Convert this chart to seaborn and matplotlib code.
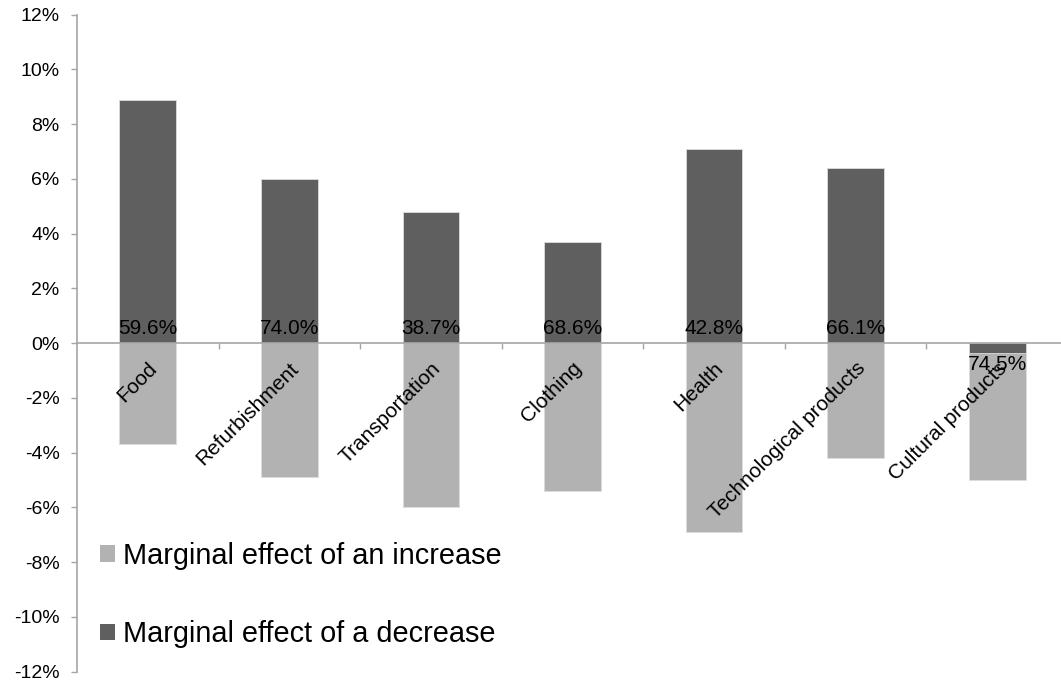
import matplotlib
matplotlib.use("Agg")
import matplotlib.pyplot as plt
import matplotlib.transforms as mtransforms
from matplotlib.patches import Patch
from matplotlib.ticker import FuncFormatter
import seaborn as sns
import pandas as pd

# ---- data ----
categories = ["Food", "Refurbishment", "Transportation", "Clothing", "Health",
              "Technological products", "Cultural products"]
increase = [-3.7, -4.9, -6.0, -5.4, -6.9, -4.2, -5.0]
decrease = [8.9, 6.0, 4.8, 3.7, 7.1, 6.4, -0.35]
share_labels = ["59.6%", "74.0%", "38.7%", "68.6%", "42.8%", "66.1%", "74.5%"]
y_ticks = list(range(-12, 13, 2))
legend_labels = ["Marginal effect of an increase", "Marginal effect of a decrease"]

sns.set_style("white")
plt.rcParams["font.family"] = ["Liberation Sans", "DejaVu Sans"]
plt.rcParams["text.color"] = "black"
plt.rcParams["xtick.labelcolor"] = "black"
plt.rcParams["ytick.labelcolor"] = "black"

LIGHT = "#b2b2b2"
DARK = "#5f5f5f"
AXIS = "#a6a6a6"

W, H = 1061, 686
fig = plt.figure(figsize=(W / 100, H / 100), dpi=100)
ax = fig.add_axes([77 / W, 1 - 671.7 / H, (1068 - 77) / W, (671.7 - 14.7) / H])

df = pd.DataFrame({"category": categories, "increase": increase, "decrease": decrease})
sns.barplot(data=df, x="category", y="increase", color=LIGHT, width=0.4,
            errorbar=None, saturation=1, ax=ax, edgecolor="#dcdcdc", linewidth=0.6)
sns.barplot(data=df, x="category", y="decrease", color=DARK, width=0.4,
            errorbar=None, saturation=1, ax=ax, edgecolor="#dcdcdc", linewidth=0.6)

ax.set_axisbelow(False)
ax.set_xlabel("")
ax.set_ylabel("")
ax.set_xlim(-0.5, 6.5)
ax.set_ylim(-12, 12)
ax.set_yticks(y_ticks)
ax.yaxis.set_major_formatter(FuncFormatter(lambda v, p: f"{v:.0f}%"))

for s in ("top", "right"):
    ax.spines[s].set_visible(False)
ax.spines["left"].set_color(AXIS)
ax.spines["left"].set_linewidth(1.2)
ax.spines["bottom"].set_color(AXIS)
ax.spines["bottom"].set_linewidth(1.2)
ax.spines["bottom"].set_position(("data", 0))

ax.tick_params(axis="y", left=True, direction="out", length=4.5, width=1,
               color=AXIS, pad=8, labelsize=14, labelcolor="black")

ax.set_xticks(range(len(categories)))
ax.set_xticklabels(categories, rotation=45, ha="right", va="center",
                   rotation_mode="anchor", fontsize=15, color="black")
ax.tick_params(axis="x", which="major", bottom=True, length=0, pad=16,
               labelcolor="black")
ax.set_xticks([i + 0.5 for i in range(len(categories))], minor=True)
ax.tick_params(axis="x", which="minor", bottom=True, length=4, width=1,
               color=AXIS, direction="out")
for lab in ax.get_xticklabels():
    lab.set_transform(lab.get_transform() +
                      mtransforms.ScaledTranslation(0.065, 0, fig.dpi_scale_trans))

for i, (v, lab) in enumerate(zip(decrease, share_labels)):
    dy = 6.7 if v >= 0 else -19.2
    ax.annotate(lab, (i, 0), xytext=(0, dy), textcoords="offset points",
                ha="center", va="baseline", fontsize=15, color="black", zorder=5)

handles = [Patch(facecolor=LIGHT, edgecolor="none"), Patch(facecolor=DARK, edgecolor="none")]
fig.legend(handles, legend_labels, loc="center left",
           bbox_to_anchor=(100 / W, 1 - 595 / H), bbox_transform=fig.transFigure,
           frameon=False, fontsize=20.8, handlelength=0.52, handleheight=0.52,
           handletextpad=0.29, labelspacing=1.75, borderpad=0, borderaxespad=0,
           labelcolor="black")

fig.savefig("out.png", dpi=100)
